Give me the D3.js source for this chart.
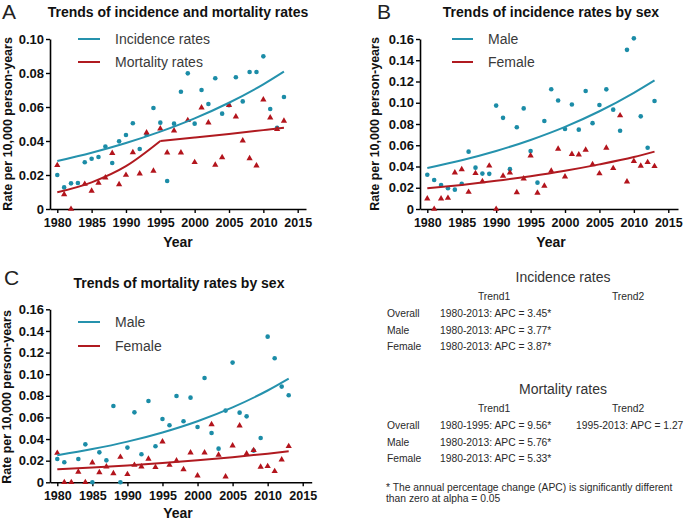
<!DOCTYPE html>
<html><head><meta charset="utf-8">
<script src="https://cdn.jsdelivr.net/npm/d3@7"></script>
<style>
html,body{margin:0;padding:0;background:#fff;}
svg{display:block;font-family:"Liberation Sans",Arial,sans-serif;}
</style></head>
<body>
<svg id="chart" width="685" height="522"></svg>
<script>
// ---------------- DATA ----------------
const years = [1980,1981,1982,1983,1984,1985,1986,1987,1988,1989,1990,1991,1992,1993,1994,1995,1996,1997,1998,1999,2000,2001,2002,2003,2004,2005,2006,2007,2008,2009,2010,2011,2012,2013];

// Panel A
const incidenceRates = [0.0200,0.0127,0.0151,0.0153,0.0275,0.0296,0.0306,0.0367,0.0271,0.0398,0.0435,0.0504,0.0353,0.0437,0.0594,0.0508,0.0165,0.0502,0.0690,0.0798,0.0502,0.0700,0.0618,0.0769,0.0561,0.0610,0.0775,0.0633,0.0806,0.0806,0.0898,0.0588,0.0478,0.0659];
const mortalityRates = [0.0257,0.0086,0.0000,null,0.0147,0.0106,0.0153,0.0184,0.0329,0.0145,0.0200,0.0333,0.0208,0.0449,0.0224,0.0473,0.0331,0.0461,0.0331,0.0522,0.0275,0.0596,0.0508,0.0259,0.0304,0.0610,0.0543,0.0402,0.0298,0.0255,0.0643,0.0537,0.0469,0.0518];

// Panel B
const maleIncidence = [0.0323,0.0273,0.0226,0.0195,0.0182,0.0238,0.0540,0.0389,0.0333,0.0331,0.0973,0.0858,0.0375,0.0770,0.0947,0.0545,0.0248,0.0828,0.1127,0.1021,0.0753,0.0983,0.0747,0.1111,0.0808,0.0979,0.1126,0.0935,0.0736,0.1498,0.1606,0.0872,0.0577,0.1016];
const femaleIncidence = [0.0097,0.0000,0.0097,0.0103,0.0342,0.0373,0.0160,0.0336,0.0260,0.0407,0.0000,0.0311,0.0342,0.0156,0.0286,0.0502,0.0152,0.0218,0.0358,0.0565,0.0305,0.0516,0.0511,0.0556,0.0420,0.0334,0.0575,0.0383,0.0880,0.0257,0.0450,0.0405,0.0440,0.0402];

// Panel C
const maleMortality = [0.0216,0.0185,null,0.0216,0.0351,0.0000,0.0277,0.0203,0.0706,0.0000,0.0321,0.0647,0.0259,0.0752,0.0333,0.0586,0.0527,0.0798,0.0564,0.0783,0.0512,0.0965,0.0456,0.0311,0.0663,0.1107,0.0644,0.0610,0.0293,0.0410,0.1347,0.1147,0.0885,0.0805];
const femaleMortality = [0.0271,0.0000,0.0000,0.0096,0.0000,0.0182,0.0092,0.0145,0.0083,0.0234,0.0074,0.0160,0.0145,0.0216,0.0139,0.0376,0.0160,0.0200,0.0120,0.0274,0.0062,0.0274,0.0536,0.0253,0.0052,0.0339,0.0524,0.0265,0.0296,0.0142,0.0148,0.0102,0.0210,0.0333];

// Fitted trend lines
const fitYears = [1980,1985,1990,1995,2000,2005,2010,2013];
const fitIncidence = [0.0282,0.0331,0.0388,0.0455,0.0533,0.0625,0.0733,0.0808];
const fitMortYears1 = [1980,1985,1990,1995];
const fitMortality1 = [0.0098,0.0157,0.0252,0.0400];
const fitMortYears2 = [1995,2000,2005,2010,2013];
const fitMortality2 = [0.0400,0.0420,0.0441,0.0464,0.0478];
const fitMaleInc = [0.0386,0.0459,0.0546,0.0650,0.0773,0.0920,0.1094,0.1211];
const fitFemaleInc = [0.0195,0.0227,0.0265,0.0309,0.0360,0.0420,0.0489,0.0540];
const fitMaleMort = [0.0250,0.0307,0.0376,0.0461,0.0565,0.0693,0.0849,0.0959];
const fitFemaleMort = [0.0120,0.0137,0.0156,0.0178,0.0203,0.0232,0.0265,0.0287];

// Ticks
const xTicks = [1980,1985,1990,1995,2000,2005,2010,2015];
const yTicksA = [0,0.02,0.04,0.06,0.08,0.10];
const yTicksBC = [0,0.02,0.04,0.06,0.08,0.10,0.12,0.14,0.16];

// Table
const tableRows = ["Overall","Male","Female"];
const incTrend1 = ["1980-2013: APC = 3.45*","1980-2013: APC = 3.77*","1980-2013: APC = 3.87*"];
const incTrend2 = ["","",""];
const mortTrend1 = ["1980-1995: APC = 9.56*","1980-2013: APC = 5.76*","1980-2013: APC = 5.33*"];
const mortTrend2 = ["1995-2013: APC = 1.27","",""];
const footnote = ["* The annual percentage change (APC) is significantly different","than zero at alpha = 0.05"];

// ---------------- DRAW ----------------
const TEAL = "#1b8ca7", RED = "#b3141c";
const TEAL_L = "#2592ad", RED_L = "#b01a20";
const svg = d3.select("#chart");

function pts(vals){ return years.map((y,i)=>({x:y,v:vals[i]})).filter(d=>d.v!==null); }
function fit(ys, vals){ return ys.map((y,i)=>({x:y,v:vals[i]})); }

function panel(o){
  const g = svg.append("g");
  const x = d3.scaleLinear().domain(o.xDom).range(o.xRange);
  const y = d3.scaleLinear().domain([0,o.yMax]).range([o.yBottom,o.yTop]);

  const ya = d3.axisLeft(y).tickValues(o.yTicks).tickSize(4).tickPadding(2)
    .tickFormat(d=> d===0 ? "0" : d3.format(".2f")(d)).tickSizeOuter(0);
  const yg = g.append("g").attr("transform",`translate(${o.xRange[0]},0)`).call(ya);
  const xa = d3.axisBottom(x).tickValues(xTicks).tickSize(4).tickPadding(5)
    .tickFormat(d3.format("d")).tickSizeOuter(0);
  const xg = g.append("g").attr("transform",`translate(0,${o.yBottom})`).call(xa);
  [yg,xg].forEach(a=>{
    a.selectAll("path.domain").attr("stroke","#000").attr("stroke-width",1.6);
    a.selectAll(".tick line").attr("stroke","#000").attr("stroke-width",1.4);
    a.selectAll(".tick text").attr("fill","#111").attr("font-weight","bold")
      .attr("font-family","Liberation Sans, Arial, sans-serif");
  });
  yg.selectAll(".tick text").attr("font-size","13px");
  xg.selectAll(".tick text").attr("font-size","12.5px");

  g.append("g").selectAll("circle").data(pts(o.s1)).join("circle")
    .attr("cx",d=>x(d.x)).attr("cy",d=>y(d.v)).attr("r",2.3).attr("fill",TEAL);
  const tri = d3.symbol().type(d3.symbolTriangle).size(17);
  g.append("g").selectAll("path").data(pts(o.s2)).join("path")
    .attr("d",tri).attr("transform",d=>`translate(${x(d.x)},${y(d.v)})`).attr("fill",RED);

  const line = d3.line().x(d=>x(d.x)).y(d=>y(d.v)).curve(d3.curveMonotoneX);
  o.fits.forEach(f=>{
    g.append("path").attr("d",line(f.data)).attr("fill","none")
      .attr("stroke",f.color).attr("stroke-width",2);
  });

  o.legend.forEach((l,i)=>{
    const ly = o.legY[i];
    g.append("line").attr("x1",o.legX[0]).attr("x2",o.legX[1]).attr("y1",ly).attr("y2",ly)
      .attr("stroke",l.color).attr("stroke-width",2);
    g.append("text").attr("x",o.legX[2]).attr("y",ly+5).attr("font-size","14px")
      .attr("fill","#3a3a3a").text(l.label);
  });

  g.append("text").attr("x",o.letter[1]).attr("y",o.letter[2]).attr("font-size","21px")
    .attr("fill","#222").text(o.letter[0]);
  g.append("text").attr("x",o.title[1]).attr("y",o.title[2]).attr("text-anchor","middle")
    .attr("font-size","14px").attr("font-weight","bold").attr("fill","#111").text(o.title[0]);
  g.append("text").attr("transform",`translate(${o.yTitle[0]},${o.yTitle[1]}) rotate(-90)`)
    .attr("text-anchor","middle").attr("font-size","12.5px").attr("font-weight","bold")
    .attr("fill","#111").text("Rate per 10,000 person-years");
  g.append("text").attr("x",o.xTitle[0]).attr("y",o.xTitle[1]).attr("text-anchor","middle")
    .attr("font-size","14px").attr("font-weight","bold").attr("fill","#111").text("Year");
}

panel({
  xDom:[1978.94,2016.21], xRange:[50,306], yTop:39, yBottom:209, yMax:0.10, yTicks:yTicksA,
  s1:incidenceRates, s2:mortalityRates,
  fits:[{data:fit(fitYears,fitIncidence),color:TEAL_L},
        {data:fit(fitMortYears1,fitMortality1),color:RED_L},
        {data:fit(fitMortYears2,fitMortality2),color:RED_L}],
  legend:[{label:"Incidence rates",color:TEAL_L},{label:"Mortality rates",color:RED_L}],
  legX:[78,100,115], legY:[39,62],
  letter:["A",2,19], title:["Trends of incidence and mortality rates",178,17],
  yTitle:[12,124], xTitle:[178,247]
});
panel({
  xDom:[1978.94,2016.41], xRange:[420,678], yTop:39, yBottom:209, yMax:0.16, yTicks:yTicksBC,
  s1:maleIncidence, s2:femaleIncidence,
  fits:[{data:fit(fitYears,fitMaleInc),color:TEAL_L},{data:fit(fitYears,fitFemaleInc),color:RED_L}],
  legend:[{label:"Male",color:TEAL_L},{label:"Female",color:RED_L}],
  legX:[452,473,488], legY:[39,62],
  letter:["B",377,19], title:["Trends of incidence rates by sex",551,17],
  yTitle:[379,124], xTitle:[551,247]
});
panel({
  xDom:[1978.96,2016.28], xRange:[50,311.7], yTop:309.3, yBottom:482.3, yMax:0.16, yTicks:yTicksBC,
  s1:maleMortality, s2:femaleMortality,
  fits:[{data:fit(fitYears,fitMaleMort),color:TEAL_L},{data:fit(fitYears,fitFemaleMort),color:RED_L}],
  legend:[{label:"Male",color:TEAL_L},{label:"Female",color:RED_L}],
  legX:[78,100,115], legY:[322,346],
  letter:["C",4,285], title:["Trends of mortality rates by sex",179,288],
  yTitle:[11,397], xTitle:[178,518]
});

// table
const tg = svg.append("g").attr("fill","#2a2a2a");
function table(top, title, t1, t2){
  tg.append("text").attr("x",563).attr("y",top).attr("text-anchor","middle")
    .attr("font-size","14px").attr("fill","#333").text(title);
  tg.append("text").attr("x",494).attr("y",top+18).attr("text-anchor","middle")
    .attr("font-size","10.3px").text("Trend1");
  tg.append("text").attr("x",628).attr("y",top+18).attr("text-anchor","middle")
    .attr("font-size","10.3px").text("Trend2");
  tableRows.forEach((r,i)=>{
    const yy = top + 35 + i*16.5;
    tg.append("text").attr("x",387).attr("y",yy).attr("font-size","10.3px").text(r);
    tg.append("text").attr("x",440).attr("y",yy).attr("font-size","10.3px").text(t1[i]);
    if(t2[i]) tg.append("text").attr("x",576).attr("y",yy).attr("font-size","10.3px").text(t2[i]);
  });
}
table(282, "Incidence rates", incTrend1, incTrend2);
table(394, "Mortality rates", mortTrend1, mortTrend2);
footnote.forEach((f,i)=>{
  tg.append("text").attr("x",386).attr("y",491+i*10.5).attr("font-size","10.3px").text(f);
});
</script>
</body></html>
